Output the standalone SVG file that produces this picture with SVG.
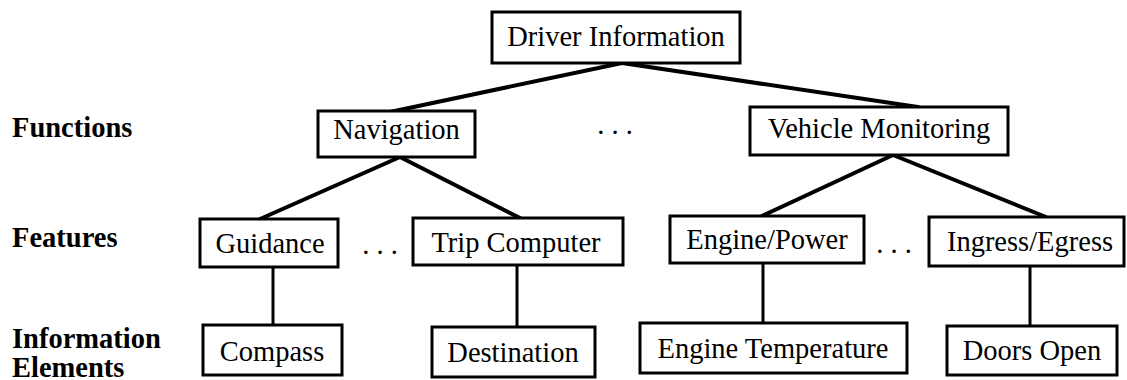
<svg xmlns="http://www.w3.org/2000/svg" width="1127" height="380" viewBox="0 0 1127 380">
<style>
.box{fill:#fff;stroke:#000;stroke-width:3}
.t{font-family:"Liberation Serif","Times New Roman",serif;font-size:28.5px;fill:#000;text-anchor:middle}
.lab{font-family:"Liberation Serif","Times New Roman",serif;font-size:28.5px;font-weight:bold;fill:#000}
.diag{stroke:#000;stroke-width:4;fill:none;stroke-linecap:round}
.vert{stroke:#000;stroke-width:3;fill:none}
</style>
<rect width="1127" height="380" fill="#fff"/>
<g id="connectors">
<line class="diag" x1="622" y1="63" x2="390" y2="112"/>
<line class="diag" x1="622" y1="63" x2="918" y2="107"/>
<line class="diag" x1="400" y1="157" x2="260" y2="219"/>
<line class="diag" x1="400" y1="157" x2="520" y2="218"/>
<line class="diag" x1="893" y1="155" x2="762" y2="216"/>
<line class="diag" x1="893" y1="155" x2="1046" y2="217"/>
<line class="vert" x1="273" y1="267" x2="273" y2="325"/>
<line class="vert" x1="517" y1="265" x2="517" y2="327"/>
<line class="vert" x1="763" y1="263" x2="763" y2="323"/>
<line class="vert" x1="1030" y1="266" x2="1030" y2="326"/>
</g>
<g id="labels">
<text class="lab" x="12" y="137">Functions</text>
<text class="lab" x="12" y="247">Features</text>
<text class="lab" x="12" y="348">Information</text>
<text class="lab" x="12" y="377">Elements</text>
</g>
<g id="ellipses">
<text class="t" x="615" y="134">. . .</text>
<text class="t" x="380" y="254">. . .</text>
<text class="t" x="894" y="253">. . .</text>
</g>
<g id="driver-information">
<rect class="box" x="492" y="12" width="248" height="51"/>
<text class="t" x="616" y="46">Driver Information</text>
</g>
<g id="navigation">
<rect class="box" x="318" y="111" width="157" height="46"/>
<text class="t" x="396.5" y="139">Navigation</text>
</g>
<g id="vehicle-monitoring">
<rect class="box" x="750" y="107" width="258" height="48"/>
<text class="t" x="879" y="138">Vehicle Monitoring</text>
</g>
<g id="guidance">
<rect class="box" x="200" y="219" width="138" height="48"/>
<text class="t" x="270" y="253">Guidance</text>
</g>
<g id="trip-computer">
<rect class="box" x="413" y="218" width="210" height="47"/>
<text class="t" x="516" y="252">Trip Computer</text>
</g>
<g id="engine-power">
<rect class="box" x="670" y="216" width="194" height="47"/>
<text class="t" x="767" y="249">Engine/Power</text>
</g>
<g id="ingress-egress">
<rect class="box" x="929" y="217" width="195" height="49"/>
<text class="t" x="1030" y="251">Ingress/Egress</text>
</g>
<g id="compass">
<rect class="box" x="203" y="325" width="139" height="50"/>
<text class="t" x="272" y="361">Compass</text>
</g>
<g id="destination">
<rect class="box" x="432" y="327" width="163" height="50"/>
<text class="t" x="513" y="362">Destination</text>
</g>
<g id="engine-temperature">
<rect class="box" x="640" y="323" width="267" height="50"/>
<text class="t" x="773" y="358">Engine Temperature</text>
</g>
<g id="doors-open">
<rect class="box" x="947" y="326" width="170" height="49"/>
<text class="t" x="1032" y="360">Doors Open</text>
</g>
</svg>
